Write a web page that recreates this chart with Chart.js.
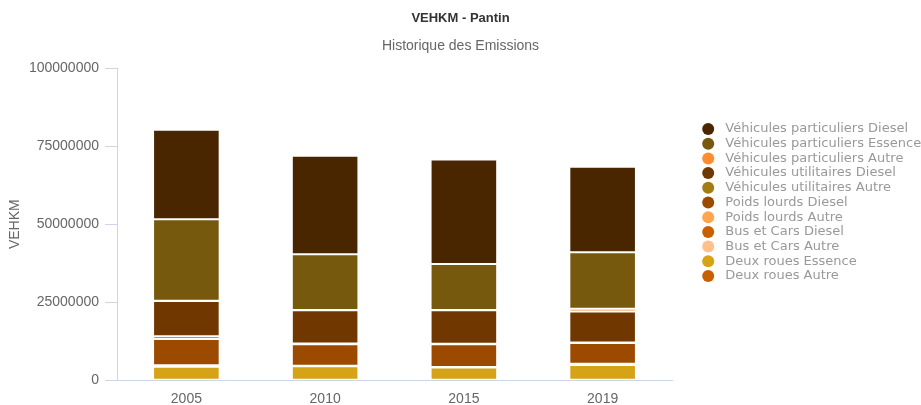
<!DOCTYPE html>
<html>
<head>
<meta charset="utf-8">
<script src="https://cdn.jsdelivr.net/npm/chart.js@4"></script>
<style>
  html, body { margin: 0; padding: 0; background: #fff; }
  #wrap { width: 921px; height: 405px; }
</style>
</head>
<body>
<div id="wrap"><canvas id="chart"></canvas></div>
<script>
// ─── Data ────────────────────────────────────────────────────────────────────
// Series listed from the bottom of the stack to the top.

const years = ['2005', '2010', '2015', '2019'];

const deuxRouesAutre      = [100000, 100000, 50000, 50000];
const deuxRouesEssence    = [4150000, 4300000, 4000000, 4760000];
const busCarsAutre        = [100000, 50000, 50000, 150000];
const busCarsDiesel       = [250000, 50000, 50000, 200000];
const poidsLourdsAutre    = [150000, 100000, 50000, 60000];
const poidsLourdsDiesel   = [8430000, 6900000, 7300000, 6640000];
const utilitairesAutre    = [900000, 200000, 100000, 200000];
const utilitairesDiesel   = [11280000, 10700000, 10750000, 9940000];
const particuliersAutre   = [100000, 100000, 100000, 900000];
const particuliersEssence = [26100000, 17840000, 14740000, 18100000];
const particuliersDiesel  = [28750000, 31640000, 33560000, 27460000];

const yTicks = [0, 25000000, 50000000, 75000000, 100000000];

// ─── Series table ────────────────────────────────────────────────────────────

const series = [
  ['Deux roues Autre', deuxRouesAutre, '#c86000'],
  ['Deux roues Essence', deuxRouesEssence, '#d6a316'],
  ['Bus et Cars Autre', busCarsAutre, '#ffc08c'],
  ['Bus et Cars Diesel', busCarsDiesel, '#c86000'],
  ['Poids lourds Autre', poidsLourdsAutre, '#ffa64d'],
  ['Poids lourds Diesel', poidsLourdsDiesel, '#9c4a00'],
  ['Véhicules utilitaires Autre', utilitairesAutre, '#a27d12'],
  ['Véhicules utilitaires Diesel', utilitairesDiesel, '#703800'],
  ['Véhicules particuliers Autre', particuliersAutre, '#ff8c2e'],
  ['Véhicules particuliers Essence', particuliersEssence, '#76590c'],
  ['Véhicules particuliers Diesel', particuliersDiesel, '#4a2600'],
];

const FONT = "'Liberation Sans', Arial, sans-serif";
const AXIS = '#ccd6eb';

Chart.defaults.font.family = FONT;
Chart.defaults.color = '#666';

const datasets = series.map(([label, data, color]) => ({
  label,
  data,
  yAxisID: 'y',
  backgroundColor: color,
  borderColor: '#fff',
  borderWidth: 1,
  borderSkipped: false,
  categoryPercentage: 1,
  barPercentage: 0.48,
}));

const defaultLabels = Chart.defaults.plugins.legend.labels.generateLabels;

new Chart(document.getElementById('chart'), {
  type: 'bar',
  data: { labels: years, datasets },
  options: {
    responsive: true,
    maintainAspectRatio: false,
    animation: false,
    layout: { padding: 0 },
    plugins: {
      title: {
        display: true,
        text: 'VEHKM - Pantin',
        color: '#333',
        font: { size: 13, weight: 'bold' },
        padding: { top: 11, bottom: 6 },
      },
      subtitle: {
        display: true,
        text: 'Historique des Emissions',
        color: '#666',
        font: { size: 14 },
        padding: { top: 5, bottom: 14 },
      },
      legend: {
        position: 'right',
        reverse: true,
        maxWidth: 221,
        labels: {
          usePointStyle: true,
          pointStyle: 'circle',
          boxHeight: 8.5,
          padding: 1.7,
          color: '#999',
          font: { family: "'DejaVu Sans', sans-serif", size: 13 },
          generateLabels: chart => defaultLabels(chart).map(l => ({
            ...l, text: ' ' + l.text, lineWidth: 0,
          })),
        },
      },
      tooltip: {
        callbacks: { label: ctx => ` ${ctx.dataset.label}: ${ctx.raw}` }
      },
    },
    scales: {
      x: {
        stacked: true,
        grid: { display: false, drawTicks: false },
        border: { display: true, color: AXIS },
        ticks: { color: '#666', font: { size: 14 }, padding: 11 },
        afterFit: s => { s.height = 25; },
      },
      y: {
        stacked: true,
        min: yTicks[0],
        max: yTicks[yTicks.length - 1],
        afterBuildTicks: s => { s.ticks = yTicks.map(v => ({ value: v })); },
        ticks: { color: '#666', font: { size: 14 }, padding: 6, callback: v => String(v) },
        grid: { drawOnChartArea: false, drawTicks: true, tickLength: 12, color: AXIS },
        border: { display: true, color: AXIS },
        title: {
          display: true,
          text: 'VEHKM',
          color: '#666',
          font: { size: 14 },
          padding: { top: 7, bottom: 0 },
        },
        afterFit: s => { s.width = 117; },
      },
      // empty spacer between plot and legend
      yPad: {
        axis: 'y',
        type: 'linear',
        position: 'right',
        display: true,
        grid: { display: false, drawTicks: false },
        ticks: { display: false },
        border: { display: false },
        afterFit: s => { s.width = 28; },
      },
    },
  },
});
</script>
</body>
</html>
